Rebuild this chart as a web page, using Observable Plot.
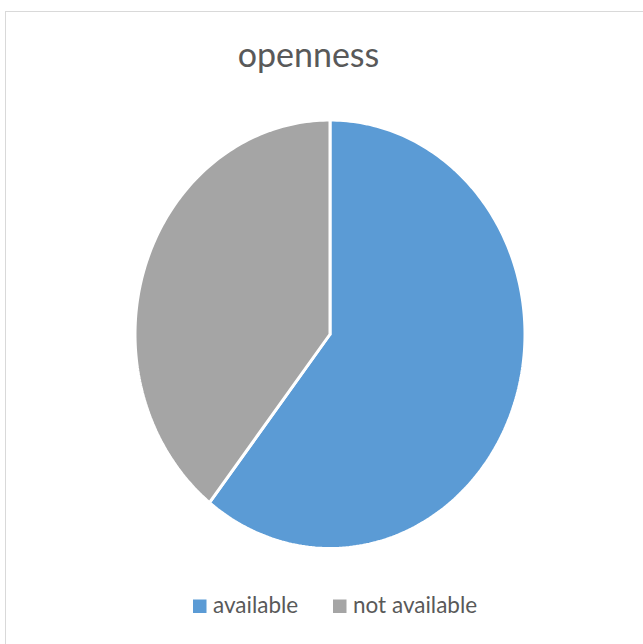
<!DOCTYPE html>
<html>
<head>
<meta charset="utf-8">
<script src="https://cdn.jsdelivr.net/npm/d3@7"></script>
<script src="https://cdn.jsdelivr.net/npm/@observablehq/plot@0.6"></script>
<style>
  html, body { margin: 0; padding: 0; background: #fff; overflow: hidden; }
  body { width: 643px; height: 644px; position: relative; font-family: Lato, "Open Sans", sans-serif; }
  #frame { position: absolute; left: 5px; top: 11px; width: 700px; height: 700px; border: 1px solid #d9d9d9; box-sizing: border-box; }
  #chart { position: absolute; left: 0; top: 0; }
  #labels { position: absolute; left: 0; top: 0; pointer-events: none; }
</style>
</head>
<body>
<div id="frame"></div>
<div id="chart"></div>
<svg id="labels" width="643" height="644"></svg>
<script>
// ---- data ----
const title = "openness";
const categories = ["available", "not available"];
const values = [20, 13];
const colors = ["#5B9BD5", "#A5A5A5"];

// ---- geometry of slices (unit circle, clockwise from 12 o'clock) ----
const pie = d3.pie().sort(null).value(d => d.value);
const arcs = pie(categories.map((c, i) => ({category: c, value: values[i]})));
const pts = [];
for (const a of arcs) {
  const cat = a.data.category;
  pts.push({category: cat, x: 0, y: 0});
  const n = Math.max(2, Math.ceil((a.endAngle - a.startAngle) / (Math.PI * 2) * 360));
  for (let k = 0; k <= n; k++) {
    const t = a.startAngle + (a.endAngle - a.startAngle) * k / n;
    pts.push({category: cat, x: Math.sin(t), y: Math.cos(t)});
  }
  pts.push({category: cat, x: 0, y: 0});
}

const chart = Plot.plot({
  width: 643,
  height: 644,
  margin: 0,
  x: {domain: [-1, 1], range: [134.5, 524.5], axis: null},
  y: {domain: [1, -1], range: [119.5, 548], axis: null},
  color: {domain: categories, range: colors},
  marks: [
    Plot.line(pts, {x: "x", y: "y", z: "category", fill: "category", stroke: "white", strokeWidth: 3, curve: "linear", strokeLinejoin: "miter"})
  ]
});
document.getElementById("chart").appendChild(chart);

// ---- title & legend as text ----
const ns = "http://www.w3.org/2000/svg";
const svg = document.getElementById("labels");
function txt(x, y, s, size, anchor) {
  const t = document.createElementNS(ns, "text");
  t.setAttribute("x", x); t.setAttribute("y", y);
  t.setAttribute("font-size", size);
  t.setAttribute("fill", "#595959");
  t.setAttribute("text-anchor", anchor);
  t.setAttribute("font-family", "Lato, 'Open Sans', sans-serif");
  t.textContent = s;
  svg.appendChild(t);
  return t;
}
txt(308.5, 67, title, 34, "middle");
const legendX = [193, 333];
categories.forEach((c, i) => {
  const r = document.createElementNS(ns, "rect");
  r.setAttribute("x", legendX[i]); r.setAttribute("y", 599.5);
  r.setAttribute("width", 13.5); r.setAttribute("height", 13.5);
  r.setAttribute("fill", colors[i]);
  svg.appendChild(r);
  txt(legendX[i] + 20, 613, c, 22.5, "start");
});
</script>
</body>
</html>
